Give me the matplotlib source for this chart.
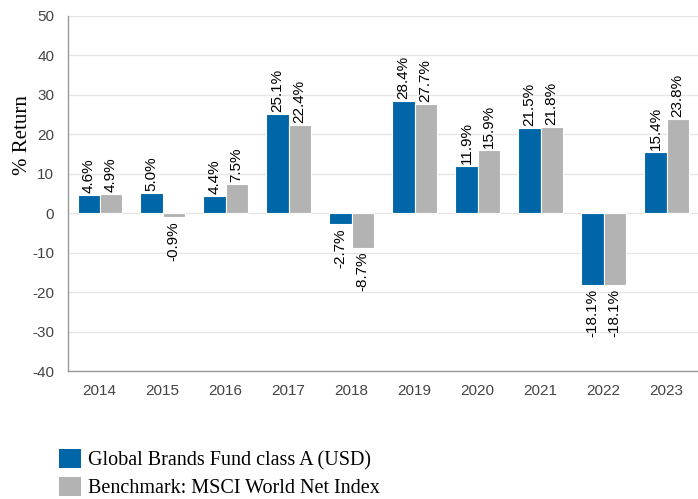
import numpy as np
import matplotlib
matplotlib.use("Agg")
import matplotlib.pyplot as plt
from matplotlib.patches import Patch

plt.rcParams["axes.unicode_minus"] = False

years = ["2014", "2015", "2016", "2017", "2018", "2019", "2020", "2021", "2022", "2023"]
fund = [4.6, 5.0, 4.4, 25.1, -2.7, 28.4, 11.9, 21.5, -18.1, 15.4]
bench = [4.9, -0.9, 7.5, 22.4, -8.7, 27.7, 15.9, 21.8, -18.1, 23.8]
series_names = ["Global Brands Fund class A (USD)", "Benchmark: MSCI World Net Index"]

blue = "#0066a8"
grey = "#b3b3b3"

fig = plt.figure(figsize=(6.98, 4.99), dpi=100)
ax = fig.add_axes([0.0975, 0.2565, 0.9025, 0.7115])

x = np.arange(len(years))
w = 0.35
b1 = ax.bar(x - w / 2, fund, w, color=blue, edgecolor="white", linewidth=0.8, zorder=3)
b2 = ax.bar(x + w / 2, bench, w, color=grey, edgecolor="white", linewidth=0.8, zorder=3)

for bars, vals in ((b1, fund), (b2, bench)):
    for rect, v in zip(bars, vals):
        cx = rect.get_x() + rect.get_width() / 2
        if v >= 0:
            ax.annotate(f"{v:.1f}%", (cx, v), xytext=(0, 1.5), textcoords="offset points",
                        rotation=90, ha="center", va="bottom", fontsize=11,
                        family="Liberation Sans", color="black")
        else:
            ax.annotate(f"{v:.1f}%", (cx, v), xytext=(0, -3), textcoords="offset points",
                        rotation=90, ha="center", va="top", fontsize=11,
                        family="Liberation Sans", color="black")

ax.set_xlim(-0.5, len(years) - 0.5)
ax.set_ylim(-40, 50)
ax.set_yticks(np.arange(-40, 51, 10))
ax.set_xticks(x)
ax.set_xticklabels(years)
for lab in ax.get_xticklabels() + ax.get_yticklabels():
    lab.set_family("Liberation Sans")
    lab.set_fontsize(11)
    lab.set_color("#444444")
ax.tick_params(axis="y", length=0, pad=10)
ax.tick_params(axis="x", length=0, pad=9)
ax.grid(axis="y", color="#e6e6e6", linewidth=1, zorder=0)
for s in ("top", "right"):
    ax.spines[s].set_visible(False)
for s in ("left", "bottom"):
    ax.spines[s].set_color("#999999")
    ax.spines[s].set_linewidth(1)
    ax.spines[s].set_zorder(4)
ax.set_ylabel("% Return", family="Liberation Serif", fontsize=15)
ax.yaxis.set_label_coords(-0.058, 0.665)

handles = [Patch(facecolor=blue), Patch(facecolor=grey)]
fig.legend(handles, series_names, loc="upper left", bbox_to_anchor=(0.0845, 0.1),
           frameon=False, prop={"family": "Liberation Serif", "size": 14.5},
           handlelength=1.1, handleheight=1.1, handletextpad=0.35,
           labelspacing=0.3, borderpad=0, borderaxespad=0)

fig.savefig("out.png", dpi=100)
